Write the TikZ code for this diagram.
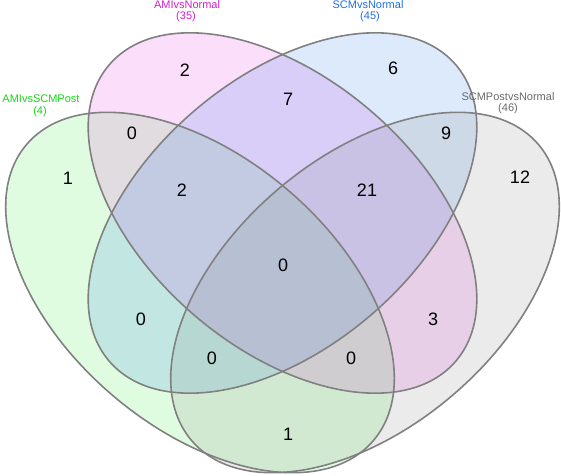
\documentclass[tikz,border=0pt]{standalone}
\usepackage{fontspec}
\setmainfont{Liberation Sans}
\definecolor{cA}{RGB}{48,235,48}
\definecolor{cB}{RGB}{222,35,222}
\definecolor{cC}{RGB}{22,115,235}
\definecolor{cD}{RGB}{122,122,122}
\definecolor{tA}{RGB}{20,215,20}
\definecolor{tB}{RGB}{210,30,210}
\definecolor{tC}{RGB}{30,110,230}
\definecolor{tD}{RGB}{105,105,105}
\definecolor{edge}{RGB}{128,128,128}
\tikzset{
  setfill/.style={fill=#1, fill opacity=0.15, draw=none},
  setline/.style={draw=edge, line width=1.6pt, fill=none},
  num/.style={inner sep=0pt, font=\fontsize{18}{20}\selectfont, text=black},
  setlabel/.style={inner sep=0pt, font=\fontsize{11}{13}\selectfont, text=#1},
}
\begin{document}
\begin{tikzpicture}[x=1pt,y=1pt]
\useasboundingbox (0,0) rectangle (561,475);
% fills
\path[setfill=cA, rotate around={-40.5:(200,182.5)}] (200,182.5) ellipse (228pt and 135pt);
\path[setfill=cB, rotate around={-40.5:(282.5,262)}] (282.5,262) ellipse (228pt and 135pt);
\path[setfill=cC, rotate around={40.5:(282.5,262)}] (282.5,262) ellipse (228pt and 135pt);
\path[setfill=cD, rotate around={40.5:(365,182.5)}] (365,182.5) ellipse (228pt and 135pt);
% outlines
\draw[setline, rotate around={-40.5:(200,182.5)}] (200,182.5) ellipse (228pt and 135pt);
\draw[setline, rotate around={-40.5:(282.5,262)}] (282.5,262) ellipse (228pt and 135pt);
\draw[setline, rotate around={40.5:(282.5,262)}] (282.5,262) ellipse (228pt and 135pt);
\draw[setline, rotate around={40.5:(365,182.5)}] (365,182.5) ellipse (228pt and 135pt);
% set labels
\node[setlabel=tA] (la1) at (41,376) {AMIvsSCMPost};
\node[setlabel=tA] (la2) at (40,363) {(4)};
\node[setlabel=tB] (lb1) at (187,470) {AMIvsNormal};
\node[setlabel=tB] (lb2) at (186,458) {(35)};
\node[setlabel=tC] (lc1) at (368,470) {SCMvsNormal};
\node[setlabel=tC] (lc2) at (370,458) {(45)};
\node[setlabel=tD] (ld1) at (508,378) {SCMPostvsNormal};
\node[setlabel=tD] (ld2) at (508,366) {(46)};
% counts
\node[num] (nA) at (68,297) {1};
\node[num] (nAB) at (132,342) {0};
\node[num] (nABC) at (182,285) {2};
\node[num] (nB) at (185,405) {2};
\node[num] (nBC) at (288,376) {7};
\node[num] (nC) at (393,407) {6};
\node[num] (nCD) at (446,342) {9};
\node[num] (nD) at (520,298) {12};
\node[num] (nBCD) at (367,285) {21};
\node[num] (nABCD) at (283,210) {0};
\node[num] (nAC) at (141,156) {0};
\node[num] (nBD) at (433,156) {3};
\node[num] (nACD) at (212,117) {0};
\node[num] (nABD) at (351,117) {0};
\node[num] (nAD) at (288,41) {1};
\end{tikzpicture}
\end{document}
